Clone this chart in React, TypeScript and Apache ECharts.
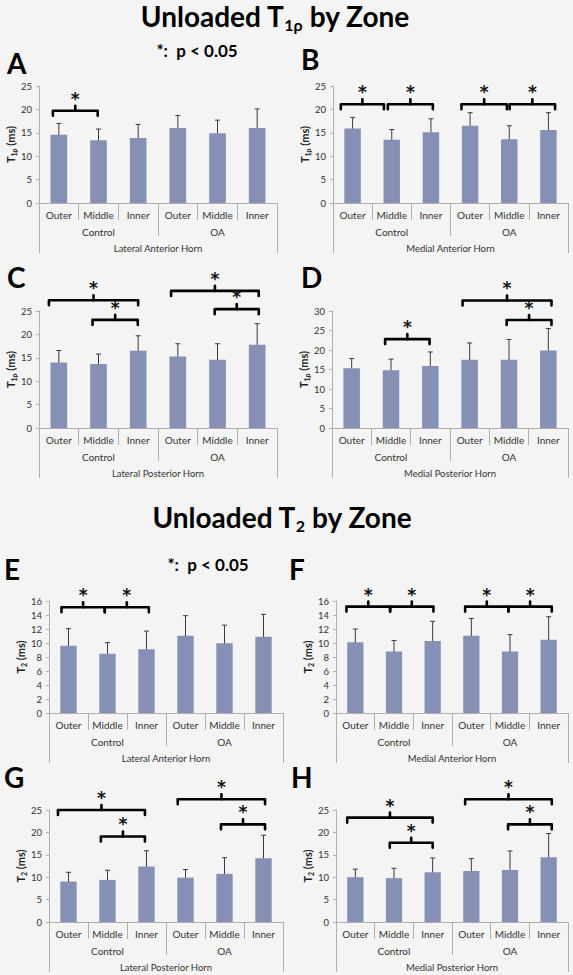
import React, { useEffect, useRef } from "react";
import * as echarts from "echarts";

const FONT = "Lato, 'DejaVu Sans', sans-serif";
const BG = "#f4f4f4";
const BAR_COLOR = "#8690b4";
const AXIS_COLOR = "#b0b0b0";

// ---- data ----
const zones = ["Outer", "Middle", "Inner", "Outer", "Middle", "Inner"];
const groups = ["Control", "OA"];
const regions = ["Lateral Anterior Horn", "Medial Anterior Horn", "Lateral Posterior Horn", "Medial Posterior Horn"];

const t1rhoLatAntMean = [14.6, 13.4, 13.9, 16.0, 14.9, 16.0];
const t1rhoLatAntSd = [2.4, 2.4, 2.9, 2.7, 2.8, 4.1];
const t1rhoMedAntMean = [15.9, 13.5, 15.1, 16.5, 13.6, 15.6];
const t1rhoMedAntSd = [2.4, 2.2, 2.9, 2.8, 2.9, 3.7];
const t1rhoLatPostMean = [14.0, 13.7, 16.5, 15.3, 14.6, 17.8];
const t1rhoLatPostSd = [2.55, 2.1, 3.2, 2.7, 3.4, 4.5];
const t1rhoMedPostMean = [15.3, 14.8, 15.9, 17.5, 17.5, 19.9];
const t1rhoMedPostSd = [2.5, 2.85, 3.6, 4.3, 5.2, 5.6];

const t2LatAntMean = [9.6, 8.45, 9.1, 11.05, 9.95, 10.9];
const t2LatAntSd = [2.45, 1.6, 2.6, 2.85, 2.6, 3.2];
const t2MedAntMean = [10.1, 8.8, 10.3, 11.05, 8.8, 10.45];
const t2MedAntSd = [1.9, 1.55, 2.8, 2.45, 2.4, 3.3];
const t2LatPostMean = [9.05, 9.4, 12.4, 9.9, 10.75, 14.25];
const t2LatPostSd = [2.05, 2.15, 3.5, 1.8, 3.6, 5.1];
const t2MedPostMean = [10.0, 9.8, 11.1, 11.4, 11.6, 14.45];
const t2MedPostSd = [1.8, 2.2, 3.2, 2.75, 4.25, 5.3];

// significance brackets: [from (category units), to (category units), y value]
const bracketsA = [[-0.15, 0.98, 19.7]];
const bracketsB = [[-0.3, 0.8, 21.1], [0.9, 2.05, 21.1], [2.78, 3.94, 21.1], [4.01, 5.17, 21.1]];
const bracketsC = [[-0.25, 2.0, 27.3], [0.85, 1.99, 23.1], [2.83, 5.04, 29.3], [3.93, 5.04, 25.4]];
const bracketsD = [[0.85, 1.98, 22.8], [2.82, 5.08, 32.7], [3.94, 5.08, 27.7]];
const bracketsE = [[-0.18, 0.93, 15.1], [0.93, 2.06, 15.1]];
const bracketsF = [[-0.23, 0.9, 15.2], [0.9, 2.02, 15.2], [2.84, 3.96, 15.2], [3.96, 5.08, 15.2]];
const bracketsG = [[-0.27, 1.96, 25.0], [0.83, 1.96, 19.1], [2.8, 5.04, 27.4], [3.91, 5.04, 21.8]];
const bracketsH = [[-0.21, 2.0, 23.3], [0.89, 2.0, 17.7], [2.84, 5.08, 27.4], [3.95, 5.08, 21.8]];

const yMaxT1 = [25, 25, 25, 30];
const yMaxT2 = [16, 16, 25, 25];
const yStepT2 = [2, 2, 5, 5];

const panels = [
  { mean: t1rhoLatAntMean, sd: t1rhoLatAntSd, region: regions[0], br: bracketsA, max: yMaxT1[0], step: 5, sub: "1ρ" },
  { mean: t1rhoMedAntMean, sd: t1rhoMedAntSd, region: regions[1], br: bracketsB, max: yMaxT1[1], step: 5, sub: "1ρ" },
  { mean: t1rhoLatPostMean, sd: t1rhoLatPostSd, region: regions[2], br: bracketsC, max: yMaxT1[2], step: 5, sub: "1ρ" },
  { mean: t1rhoMedPostMean, sd: t1rhoMedPostSd, region: regions[3], br: bracketsD, max: yMaxT1[3], step: 5, sub: "1ρ" },
  { mean: t2LatAntMean, sd: t2LatAntSd, region: regions[0], br: bracketsE, max: yMaxT2[0], step: yStepT2[0], sub: "2" },
  { mean: t2MedAntMean, sd: t2MedAntSd, region: regions[1], br: bracketsF, max: yMaxT2[1], step: yStepT2[1], sub: "2" },
  { mean: t2LatPostMean, sd: t2LatPostSd, region: regions[2], br: bracketsG, max: yMaxT2[2], step: yStepT2[2], sub: "2" },
  { mean: t2MedPostMean, sd: t2MedPostSd, region: regions[3], br: bracketsH, max: yMaxT2[3], step: yStepT2[3], sub: "2" },
];

// ---- layout ----
const gridBoxes = [
  { left: 39, top: 86, width: 238, height: 117 },
  { left: 333, top: 86, width: 235, height: 117 },
  { left: 39, top: 311, width: 238, height: 117 },
  { left: 332, top: 311, width: 236, height: 117 },
  { left: 49, top: 601, width: 234, height: 112 },
  { left: 336, top: 601, width: 232, height: 112 },
  { left: 49, top: 810, width: 234, height: 112 },
  { left: 336, top: 810, width: 232, height: 112 },
];
const letters = [
  { t: "A", x: 7, y: 63 },
  { t: "B", x: 301, y: 59 },
  { t: "C", x: 7, y: 277 },
  { t: "D", x: 301, y: 277 },
  { t: "E", x: 4, y: 569 },
  { t: "F", x: 289, y: 569 },
  { t: "G", x: 4, y: 777 },
  { t: "H", x: 291, y: 777 },
];

function buildOption() {
  const xAxis: any[] = [];
  const yAxis: any[] = [];
  const series: any[] = [];
  const labelStyle = { fontFamily: FONT, color: "#333" };
  panels.forEach((p, i) => {
    xAxis.push({
      gridIndex: i, type: "category", data: zones, position: "bottom",
      axisLine: { show: true, lineStyle: { color: AXIS_COLOR, width: 1 } },
      axisTick: { show: true, interval: 0, length: 17, lineStyle: { color: AXIS_COLOR } },
      axisLabel: { ...labelStyle, interval: 0, margin: 7, fontSize: 10 },
      splitLine: { show: false },
    });
    xAxis.push({
      gridIndex: i, type: "category", data: groups, position: "bottom",
      axisLine: { show: false },
      axisTick: { show: true, interval: 0, length: 33, lineStyle: { color: AXIS_COLOR } },
      axisLabel: { ...labelStyle, interval: 0, margin: 24, fontSize: 10 },
      splitLine: { show: false },
    });
    xAxis.push({
      gridIndex: i, type: "category", data: [p.region], position: "bottom",
      axisLine: { show: false },
      axisTick: { show: true, interval: 0, length: 50, lineStyle: { color: AXIS_COLOR } },
      axisLabel: { ...labelStyle, interval: 0, margin: 40, fontSize: 9.5 },
      splitLine: { show: false },
    });
    yAxis.push({
      gridIndex: i, type: "value", min: 0, max: p.max, interval: p.step,
      axisLine: { show: true, lineStyle: { color: AXIS_COLOR } },
      axisTick: { show: true, length: 3, lineStyle: { color: AXIS_COLOR } },
      splitLine: { show: false },
      axisLabel: { ...labelStyle, fontSize: 9.5, margin: 7 },
      name: `{b|T}{s|${p.sub}}{b| (ms)}`,
      nameLocation: "middle", nameRotate: 90, nameGap: i < 4 ? 21 : 19,
      nameTextStyle: {
        rich: {
          b: { fontFamily: FONT, fontSize: 11, fontWeight: "bold", color: "#222", lineHeight: 13 },
          s: { fontFamily: FONT, fontSize: 7, fontWeight: "bold", color: "#222", lineHeight: 7, verticalAlign: "bottom" },
        },
      },
    });
    const xi = i * 3;
    series.push({
      type: "bar", xAxisIndex: xi, yAxisIndex: i, data: p.mean, barWidth: "42%",
      itemStyle: { color: BAR_COLOR }, silent: true,
    });
    series.push({
      type: "custom", xAxisIndex: xi, yAxisIndex: i, silent: true,
      encode: { x: 0, y: [1, 2] },
      data: p.mean.map((m, k) => [k, m - p.sd[k], m + p.sd[k]]),
      renderItem: (params: any, api: any) => {
        const k = api.value(0);
        const lo = api.coord([k, api.value(1)]);
        const hi = api.coord([k, api.value(2)]);
        const cx = lo[0];
        const cap = 2.5;
        const st = { stroke: "#3a3a3a", lineWidth: 1 };
        return {
          type: "group",
          children: [
            { type: "line", shape: { x1: cx, y1: lo[1], x2: cx, y2: hi[1] }, style: st },
            { type: "line", shape: { x1: cx - cap, y1: lo[1], x2: cx + cap, y2: lo[1] }, style: st },
            { type: "line", shape: { x1: cx - cap, y1: hi[1], x2: cx + cap, y2: hi[1] }, style: st },
          ],
        };
      },
    });
    const br = p.br;
    series.push({
      type: "custom", xAxisIndex: xi, yAxisIndex: i, silent: true, clip: false,
      data: br.map((b) => [0, 0]),
      renderItem: (params: any, api: any) => {
        const b = br[params.dataIndex];
        const p0 = api.coord([0, b[2]]);
        const bw = api.size([1, 0])[0];
        const x1 = p0[0] + b[0] * bw;
        const x2 = p0[0] + b[1] * bw;
        const y = p0[1];
        const xm = (x1 + x2) / 2;
        const st = { stroke: "#000", lineWidth: 2.6, fill: null, lineJoin: "round", lineCap: "round" };
        return {
          type: "group",
          children: [
            { type: "polyline", shape: { points: [[x1, y + 5], [x1, y], [x2, y], [x2, y + 5]] }, style: st },
            { type: "line", shape: { x1: xm, y1: y, x2: xm, y2: y - 5 }, style: st },
            {
              type: "text", x: xm, y: y - 12,
              style: { text: "*", fontFamily: "'DejaVu Sans', sans-serif", fontSize: 17, fontWeight: "bold", fill: "#111", align: "center", verticalAlign: "middle" },
            },
          ],
        };
      },
    });
  });

  const titleRich = {
    m: { fontFamily: FONT, fontSize: 28, fontWeight: "bold", fill: "#000", lineHeight: 32 },
    s: { fontFamily: FONT, fontSize: 16, fontWeight: "bold", fill: "#000", lineHeight: 16, verticalAlign: "bottom" },
  };
  const graphic: any[] = [
    {
      type: "text", x: 275, y: 16,
      style: { text: "{m|Unloaded T}{s|1ρ}{m| by Zone}", rich: titleRich, align: "center", verticalAlign: "middle" },
    },
    {
      type: "text", x: 282, y: 517,
      style: { text: "{m|Unloaded T}{s|2}{m| by Zone}", rich: titleRich, align: "center", verticalAlign: "middle" },
    },
    {
      type: "text", x: 197, y: 50,
      style: { text: "*:  p < 0.05", fontFamily: FONT, fontSize: 17, fontWeight: "bold", fill: "#000", align: "center", verticalAlign: "middle" },
    },
    {
      type: "text", x: 208, y: 564,
      style: { text: "*:  p < 0.05", fontFamily: FONT, fontSize: 17, fontWeight: "bold", fill: "#000", align: "center", verticalAlign: "middle" },
    },
    ...letters.map((l) => ({
      type: "text", x: l.x, y: l.y,
      style: { text: l.t, fontFamily: FONT, fontSize: 28, fontWeight: "bold", fill: "#000", align: "left", verticalAlign: "middle" },
    })),
  ];

  return {
    animation: false,
    backgroundColor: BG,
    grid: gridBoxes.map((g) => ({ ...g, containLabel: false })),
    xAxis,
    yAxis,
    series,
    graphic,
  };
}

export default function App() {
  const ref = useRef<HTMLDivElement>(null);
  useEffect(() => {
    document.body.style.margin = "0";
    document.body.style.background = BG;
    const chart = echarts.init(ref.current as HTMLDivElement, undefined, { renderer: "svg" });
    chart.setOption(buildOption() as any);
    return () => chart.dispose();
  }, []);
  return <div ref={ref} style={{ position: "absolute", left: 0, top: 0, width: 573, height: 975 }} />;
}
